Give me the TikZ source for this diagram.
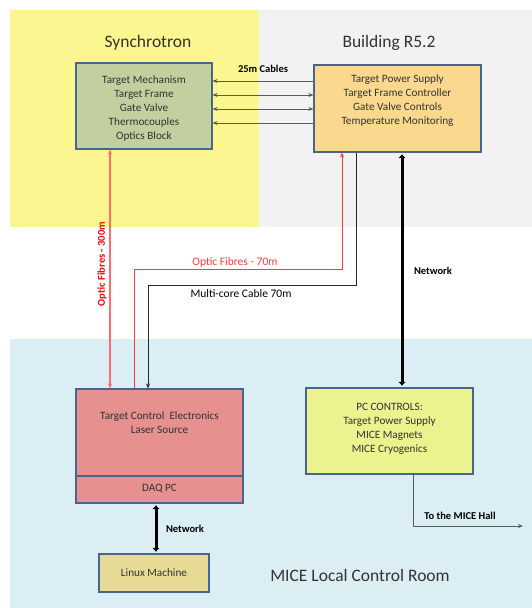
\documentclass[tikz,border=0pt]{standalone}
\usepackage{fontspec}
\setmainfont{Carlito}
\usetikzlibrary{arrows.meta}
\definecolor{bgyellow}{HTML}{FBF68F}
\definecolor{bggray}{HTML}{F2F2F2}
\definecolor{bgblue}{HTML}{DBEEF4}
\definecolor{boxborder}{HTML}{46658F}
\definecolor{greenfill}{HTML}{C2CF9F}
\definecolor{orangefill}{HTML}{FAD98E}
\definecolor{pinkfill}{HTML}{E6908F}
\definecolor{linuxfill}{HTML}{E6DA94}
\definecolor{pcfill}{HTML}{EBF28E}
\definecolor{cablegray}{HTML}{5A5A5A}
\definecolor{fibrered}{HTML}{FF3B3B}
\definecolor{txt}{HTML}{333333}
\tikzset{
  box/.style={draw=boxborder, line width=1.2pt, rectangle, inner sep=0pt},
  boxtext/.style={align=center, font=\fontsize{11.2}{14}\selectfont, text=txt, inner sep=0pt},
  title/.style={font=\fontsize{17.5}{20}\selectfont, text=txt, inner sep=0pt},
  lbl/.style={font=\bfseries\fontsize{10.5}{12}\selectfont, inner sep=0pt},
  cable/.style={draw=cablegray, line width=1pt, arrows={-Stealth[length=5pt,width=4pt]}},
  fibre/.style={draw=fibrered, line width=0.9pt},
  net/.style={draw=black, line width=3pt, arrows={Latex[length=4pt,width=7.5pt]-Latex[length=4pt,width=7.5pt]}, shorten <=1.5pt, shorten >=1.5pt},
}
\begin{document}
\begin{tikzpicture}[x=1pt,y=-1pt]
\useasboundingbox (0,0) rectangle (532,608);
\fill[white] (0,0) rectangle (532,608);
% backgrounds
\fill[bgyellow] (10,10) rectangle (259,227);
\fill[bggray] (259,10) rectangle (532,227);
\fill[bgblue] (10,339) rectangle (532,608);
% titles
\node[title] (tsync) at (148,43) {Synchrotron};
\node[title] (tbuild) at (389,43) {Building R5.2};
\node[title] (troom) at (360,575) {MICE Local Control Room};
% boxes
\node[box, fill=greenfill, minimum width=136pt, minimum height=86pt] (green) at (144,106) {};
\node[boxtext] (greentxt) at (144,109) {Target Mechanism\\Target Frame\\Gate Valve\\Thermocouples\\Optics Block};
\node[box, fill=orangefill, minimum width=167pt, minimum height=87pt] (orange) at (397.5,108.5) {};
\node[boxtext] (orangetxt) at (397.5,101) {Target Power Supply\\Target Frame Controller\\Gate Valve Controls\\Temperature Monitoring};
\node[box, fill=pinkfill, minimum width=167pt, minimum height=114pt] (pink) at (159.5,446) {};
\draw[boxborder, line width=1.2pt] (pink.west |- 0,476) coordinate (divl) -- (pink.east |- 0,476) coordinate (divr);
\node[boxtext] (pinktxt) at (159.5,423) {Target Control\ \ Electronics\\Laser Source};
\node[boxtext] (daq) at (159.5,489) {DAQ PC};
\node[box, fill=linuxfill, minimum width=110pt, minimum height=38pt] (linux) at (154,573) {};
\node[boxtext] (linuxtxt) at (154,573) {Linux Machine};
\node[box, fill=pcfill, minimum width=167pt, minimum height=86pt] (pc) at (389.5,431) {};
\node[boxtext] (pctxt) at (389.5,429) {PC CONTROLS:\\Target Power Supply\\MICE Magnets\\MICE Cryogenics};
% 25m cables
\node[lbl] (cables) at (263,69) {25m Cables};
\draw[cable, arrows={Stealth[length=5pt,width=4pt]-}] (green.east |- 0,81) -- (orange.west |- 0,81);
\draw[cable, arrows={Stealth[length=5pt,width=4pt]-Stealth[length=5pt,width=4pt]}] (green.east |- 0,95) -- (orange.west |- 0,95);
\draw[cable, arrows={Stealth[length=5pt,width=4pt]-Stealth[length=5pt,width=4pt]}] (green.east |- 0,109) -- (orange.west |- 0,109);
\draw[cable, arrows={Stealth[length=5pt,width=4pt]-}] (green.east |- 0,123) -- (orange.west |- 0,123);
% optic fibres 300m
\draw[draw=fibrered!75, line width=1.2pt, arrows={Stealth[length=5pt,width=4pt]-Stealth[length=5pt,width=4pt]}] (green.south -| 110,0) -- (pink.north -| 110,0);
\node[lbl, text=red, rotate=90] (of300) at (102,264) {Optic Fibres - 300m};
% optic fibres 70m
\draw[fibre, arrows={-Stealth[length=5pt,width=4pt]}] (pink.north -| 134,0) -- (134,269) -- (342,269) -- (orange.south -| 342,0);
\node[font=\fontsize{11.5}{12}\selectfont, inner sep=0pt, text=fibrered] (of70) at (235,262) {Optic Fibres - 70m};
% multi-core cable
\draw[draw=black!85, line width=0.9pt, arrows={-Stealth[length=5pt,width=4pt]}] (orange.south -| 356,0) -- (356,285) -- (148,285) -- (pink.north -| 148,0);
\node[font=\fontsize{11.5}{12}\selectfont, inner sep=0pt] (mcc) at (241,294) {Multi-core Cable 70m};
% networks
\draw[net] (orange.south -| 402,0) -- (pc.north -| 402,0);
\node[lbl] (net1) at (433,271) {Network};
\draw[net] (pink.south -| 156,0) -- (linux.north -| 156,0);
\node[lbl] (net2) at (185,529) {Network};
% to MICE hall
\coordinate (hall) at (523,526);
\draw[draw=cablegray, line width=1pt, arrows={-Stealth[length=5pt,width=4pt]}] (pc.south -| 413,0) -- (413,526) -- (hall);
\node[lbl] (tohall) at (460,516) {To the MICE Hall};
\end{tikzpicture}
\end{document}
